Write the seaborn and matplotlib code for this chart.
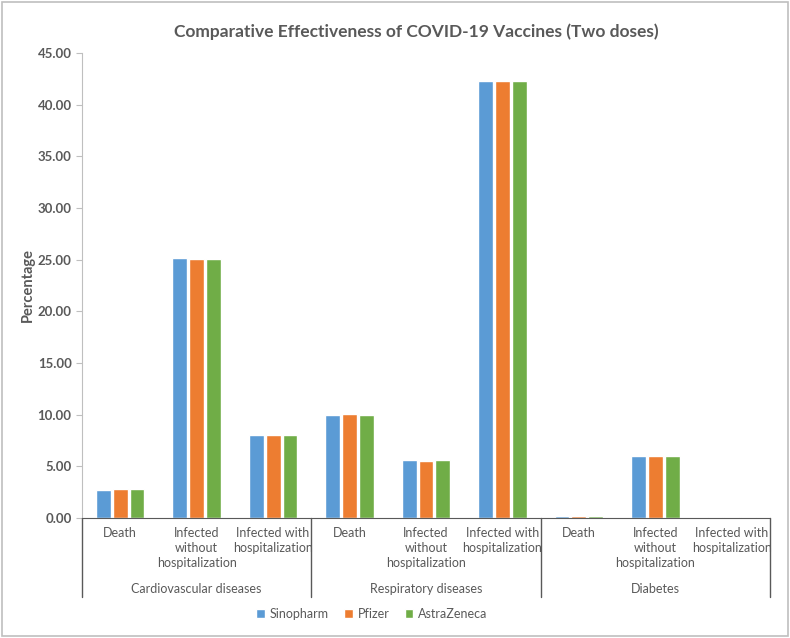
import numpy as np
import pandas as pd
import matplotlib
matplotlib.use("Agg")
import matplotlib.pyplot as plt
import matplotlib.transforms as mtransforms
from matplotlib.patches import Rectangle
import seaborn as sns

# data
diseases = ["Cardiovascular diseases", "Respiratory diseases", "Diabetes"]
outcomes = ["Death", "Infected\nwithout\nhospitalization", "Infected with\nhospitalization"]
vaccines = ["Sinopharm", "Pfizer", "AstraZeneca"]
sinopharm = [2.75, 25.15, 8.0, 10.0, 5.65, 42.3, 0.15, 6.0, 0.05]
pfizer = [2.78, 25.05, 8.0, 10.1, 5.55, 42.3, 0.2, 6.0, 0.1]
astrazeneca = [2.78, 25.05, 8.0, 9.97, 5.65, 42.28, 0.15, 6.02, 0.1]
colors = ["#5B9BD5", "#ED7D31", "#70AD47"]

rows = []
for d_i, d in enumerate(diseases):
    for o_i, o in enumerate(outcomes):
        k = d_i * 3 + o_i
        for v, vals in zip(vaccines, [sinopharm, pfizer, astrazeneca]):
            rows.append({"slot": k, "vaccine": v, "value": vals[k]})
df = pd.DataFrame(rows)

sns.set_style("white")
plt.rcParams["font.family"] = ["Lato", "DejaVu Sans"]
txt = "#595959"

fig = plt.figure(figsize=(7.9, 6.38), dpi=100)
ax = fig.add_axes([82/790, 120/638, 688/790, 465/638])

sns.barplot(data=df, x="slot", y="value", hue="vaccine", hue_order=vaccines,
            palette=colors, width=0.66, gap=0.12, ax=ax, saturation=1,
            errorbar=None, legend=True)

ax.set_ylim(0, 45)
ax.set_xlim(-0.5, 8.5)
ax.set_yticks(np.arange(0, 46, 5))
ax.set_yticklabels([f"{t:.2f}" for t in np.arange(0, 46, 5)], fontsize=9.5,
                   color=txt, fontweight="bold")
ax.tick_params(axis="y", length=4, color="#bfbfbf", direction="out", left=True)
ax.set_xticks([])
ax.set_xlabel("")
ax.set_ylabel("Percentage", fontsize=10.5, color=txt, fontweight="bold", labelpad=2)
for s in ["top", "right"]:
    ax.spines[s].set_visible(False)
ax.spines["left"].set_color("#bfbfbf")
ax.spines["bottom"].set_color("#595959")

# multi-level category axis
trans = mtransforms.blended_transform_factory(ax.transData, ax.transAxes)
for xs in [-0.5, 2.5, 5.5, 8.5]:
    ax.plot([xs, xs], [0, -0.17], transform=trans, color="#595959", lw=1, clip_on=False)
for d_i, d in enumerate(diseases):
    for o_i, o in enumerate(outcomes):
        ax.text(d_i * 3 + o_i, -0.02, o, transform=trans, ha="center", va="top",
                fontsize=9, color=txt, linespacing=1.3)
    ax.text(d_i * 3 + 1, -0.153, d, transform=trans, ha="center", va="center",
            fontsize=9, color=txt)

leg = ax.legend(loc="center", bbox_to_anchor=(372/790, 1 - 614/638),
                bbox_transform=fig.transFigure, ncol=3, frameon=False,
                fontsize=9, handlelength=0.7, handleheight=0.7,
                handletextpad=0.4, columnspacing=1.2)
for t in leg.get_texts():
    t.set_color(txt)

fig.suptitle("Comparative Effectiveness of COVID-19 Vaccines (Two doses)",
             y=1 - 32/638, x=416/790, fontsize=12.5, fontweight="bold", color=txt,
             va="center")

fig.patches.append(Rectangle((2/790, 2/638), 786/790, 634/638, transform=fig.transFigure,
                             fill=False, edgecolor="#bfbfbf", lw=1.2))

fig.savefig("out.png", dpi=100)
